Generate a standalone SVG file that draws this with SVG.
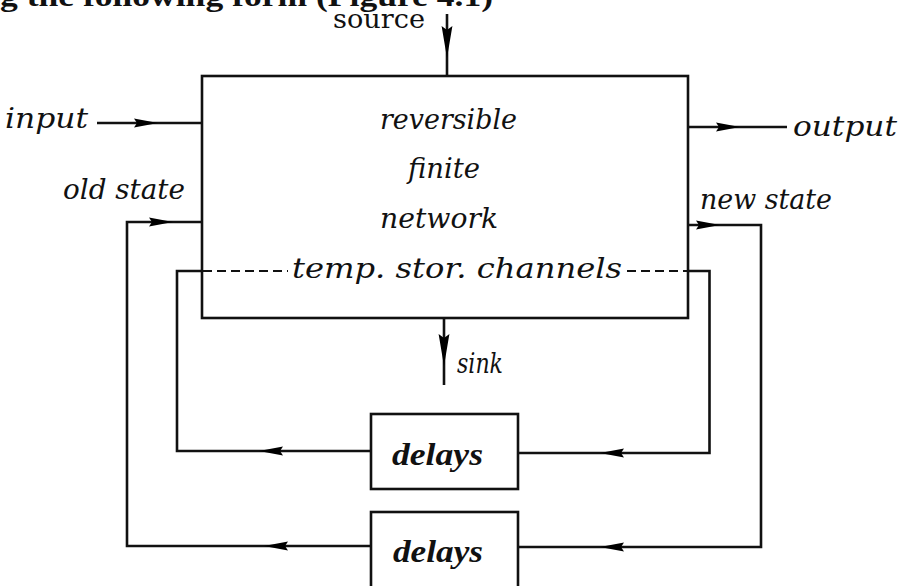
<svg xmlns="http://www.w3.org/2000/svg" width="904" height="586" viewBox="0 0 904 586">
  <style>
    .bg { fill: #ffffff; }
    .box { fill: none; stroke: #111; stroke-width: 2.6; }
    .wire { fill: none; stroke: #111; stroke-width: 2.6; stroke-linejoin: miter; }
    .dash { fill: none; stroke: #111; stroke-width: 2.2; stroke-dasharray: 9 5; }
    .lbl { font-family: "DejaVu Serif", "Liberation Serif", serif; font-style: italic; font-size: 27px; fill: #111; }
    .rom { font-family: "DejaVu Serif", "Liberation Serif", serif; font-size: 26px; fill: #111; }
    .dl { font-family: "Liberation Serif", serif; font-style: italic; font-weight: bold; font-size: 31px; fill: #111; }
    .hd { font-family: "Liberation Serif", serif; font-weight: bold; font-size: 30px; fill: #111; }
  </style>
  <defs>
    <!-- arrowhead pointing +x with its tip at the origin -->
    <path id="ah" d="M0,0 L-24,-4.6 L-21,0 L-24,4.6 Z"/>
    <!-- longer arrowhead used on the vertical flows -->
    <path id="av" d="M0,0 L-32,-5.4 L-28,0 L-32,5.4 Z"/>
  </defs>

  <rect class="bg" x="0" y="0" width="904" height="586"/>

  <!-- running heading, cut by the top edge -->
  <text class="hd" x="0" y="6" textLength="493" lengthAdjust="spacingAndGlyphs">g the following form (Figure 4.1)</text>

  <g id="network">
    <rect class="box" x="202" y="76" width="486" height="242"/>
    <text class="lbl" x="380" y="129" textLength="137" lengthAdjust="spacingAndGlyphs">reversible</text>
    <text class="lbl" x="408" y="178" textLength="72" lengthAdjust="spacingAndGlyphs">finite</text>
    <text class="lbl" x="380" y="228" textLength="118" lengthAdjust="spacingAndGlyphs">network</text>
    <text class="lbl" x="292" y="278" textLength="330" lengthAdjust="spacingAndGlyphs">temp. stor. channels</text>
  </g>

  <g id="delays-1">
    <rect class="box" x="371" y="414" width="147" height="75"/>
    <text class="dl" x="392" y="465" textLength="91" lengthAdjust="spacingAndGlyphs">delays</text>
  </g>

  <g id="delays-2">
    <rect class="box" x="371" y="512" width="147" height="90"/>
    <text class="dl" x="393" y="562" textLength="90" lengthAdjust="spacingAndGlyphs">delays</text>
  </g>

  <g id="labels">
    <text class="rom" x="333" y="28" textLength="92" lengthAdjust="spacingAndGlyphs">source</text>
    <text class="lbl" x="5" y="128" textLength="83" lengthAdjust="spacingAndGlyphs">input</text>
    <text class="lbl" x="63" y="199" textLength="122" lengthAdjust="spacingAndGlyphs">old state</text>
    <text class="lbl" x="793" y="136" textLength="104" lengthAdjust="spacingAndGlyphs">output</text>
    <text class="lbl" x="700" y="209" textLength="132" lengthAdjust="spacingAndGlyphs">new state</text>
    <text class="lbl" x="457" y="373" textLength="46" lengthAdjust="spacingAndGlyphs">sink</text>
  </g>

  <g id="connectors">
    <!-- source and sink -->
    <path class="wire" d="M447,14 V76"/>
    <use href="#av" transform="translate(447,58) rotate(90)"/>
    <path class="wire" d="M444,318 V385"/>
    <use href="#av" transform="translate(444,366) rotate(90)"/>

    <!-- input / output -->
    <path class="wire" d="M97,123 H202"/>
    <use href="#ah" transform="translate(158,123)"/>
    <path class="wire" d="M688,127 H787"/>
    <use href="#ah" transform="translate(740,127)"/>

    <!-- state loop through the lower delays -->
    <path class="wire" d="M688,225 H761 V547 H518"/>
    <use href="#ah" transform="translate(720,225)"/>
    <use href="#ah" transform="translate(600,547) rotate(180)"/>
    <path class="wire" d="M371,546 H127 V222 H202"/>
    <use href="#ah" transform="translate(264,546) rotate(180)"/>
    <use href="#ah" transform="translate(173,222)"/>

    <!-- temporary storage loop through the upper delays -->
    <path class="wire" d="M688,271 H709.5 V453 H518"/>
    <use href="#ah" transform="translate(600,453) rotate(180)"/>
    <path class="wire" d="M371,451 H177 V271 H202"/>
    <use href="#ah" transform="translate(259,451) rotate(180)"/>
    <path class="dash" d="M203,271 H288"/>
    <path class="dash" d="M627,271 H687"/>
  </g>
</svg>
